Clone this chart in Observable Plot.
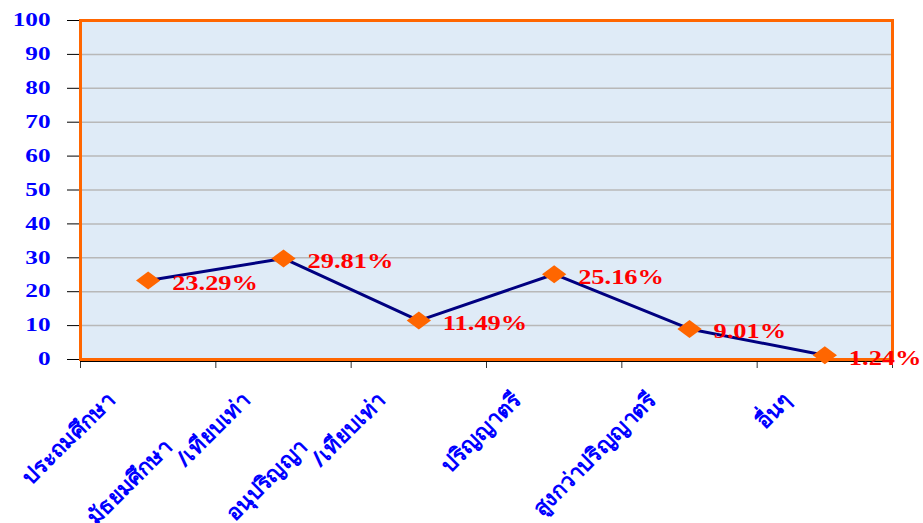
<!DOCTYPE html>
<html>
<head>
<meta charset="utf-8">
<script src="https://cdn.jsdelivr.net/npm/d3@7"></script>
<script src="https://cdn.jsdelivr.net/npm/@observablehq/plot@0.6"></script>
<style>
  html, body { margin: 0; padding: 0; background: #ffffff; }
  svg { display: block; }
</style>
</head>
<body>
<div id="chart"></div>
<script>
const categories = ["ประถมศึกษา", "มัธยมศึกษา /เทียบเท่า", "อนุปริญญา /เทียบเท่า", "ปริญญาตรี", "สูงกว่าปริญญาตรี", "อื่นๆ"];
const values = [23.29, 29.81, 11.49, 25.16, 9.01, 1.24];
const yTicks = [0, 10, 20, 30, 40, 50, 60, 70, 80, 90, 100];
const xBoundaries = [0, 1, 2, 3, 4, 5, 6];

const data = categories.map((c, i) => {
  const parts = c.split(" ");
  return {
    cat: c,
    pos: i + 0.5,
    value: values[i],
    line2: parts[parts.length - 1],
    line1: parts.length > 1 ? parts.slice(0, -1).join(" ") : ""
  };
});

const wideDiamond = {
  draw(ctx, size) {
    const r = Math.sqrt(size / Math.PI);
    const w = r * 1.35, h = r;
    ctx.moveTo(-w, 0); ctx.lineTo(0, -h); ctx.lineTo(w, 0); ctx.lineTo(0, h); ctx.closePath();
  }
};

const serif = "'Liberation Serif', 'Times New Roman', serif";
const thaiFont = "'Noto Sans', 'DejaVu Sans', sans-serif";

const chart = Plot.plot({
  width: 923,
  height: 523,
  marginLeft: 80,
  marginRight: 31,
  marginTop: 20,
  marginBottom: 164,
  style: {background: "#ffffff", overflow: "hidden"},
  x: {domain: [0, 6], axis: null},
  y: {domain: [0, 100], axis: null},
  marks: [
    Plot.frame({fill: "#dfebf7"}),
    Plot.gridY(yTicks.filter(t => t > 0 && t < 100), {stroke: "#b8b8b8", strokeOpacity: 1, strokeWidth: 1.5}),
    Plot.axisY({ticks: yTicks, tickSize: 13, tickFormat: () => "", stroke: "#000000", label: null}),
    Plot.axisY({ticks: yTicks, tickSize: 0, tickPadding: 30, fill: "#0000ff", fontSize: 18, fontWeight: "bold", fontFamily: serif, label: null}),
    Plot.axisX({ticks: xBoundaries, tickSize: 9, tickFormat: () => "", stroke: "#333333", label: null}),
    Plot.ruleY([0], {stroke: "#000000", strokeWidth: 1, dy: 2}),
    Plot.frame({stroke: "#ff6600", strokeWidth: 3}),
    Plot.line(data, {x: "pos", y: "value", stroke: "#000080", strokeWidth: 3}),
    Plot.dot(data, {x: "pos", y: "value", symbol: wideDiamond, r: 9, fill: "#ff6600", stroke: "none"}),
    Plot.text(data, {x: "pos", y: "value", text: d => d.value.toFixed(2) + "%", textAnchor: "start", dx: 24, dy: 3, fill: "#ff0000", fontSize: 20, fontWeight: "bold", fontFamily: serif}),
    // category labels (last part of each name)
    Plot.text(data, {x: "pos", y: () => 0, text: "line2", rotate: -45, textAnchor: "end", dx: -37, dy: 37, fill: "#0000ff", fontSize: 22, fontWeight: "bold", fontFamily: thaiFont}),
    // first part of two-part category names, stepped up-left as in the reference
    Plot.text(data.filter(d => d.line1), {x: "pos", y: () => 0, text: "line1", rotate: -45, textAnchor: "end", dx: -115, dy: 84, fill: "#0000ff", fontSize: 22, fontWeight: "bold", fontFamily: thaiFont})
  ]
});

document.getElementById("chart").appendChild(chart);

// horizontal stretch of numeric labels (the reference is stretched horizontally)
d3.select(chart).selectAll("text").each(function() {
  const t = this.textContent.trim();
  if (/^[\d.]+%?$/.test(t)) {
    const len = this.getComputedTextLength();
    const factor = t.endsWith("%") ? 1.32 : 1.4;
    this.setAttribute("textLength", len * factor);
    this.setAttribute("lengthAdjust", "spacingAndGlyphs");
  }
});
</script>
</body>
</html>
